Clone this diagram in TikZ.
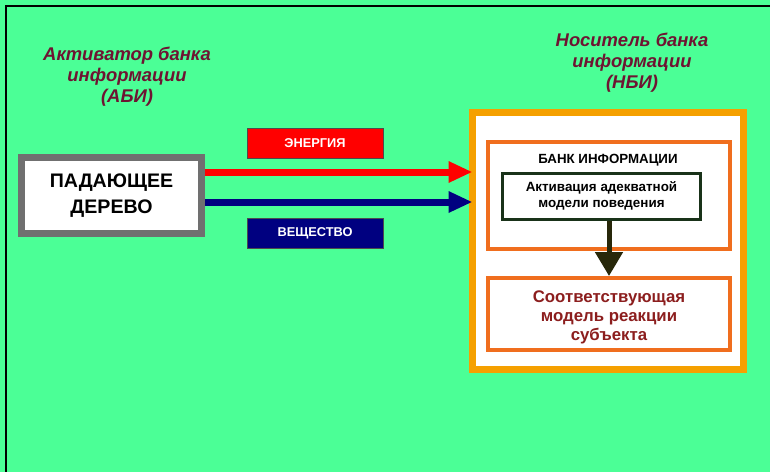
\documentclass[tikz,border=0pt]{standalone}
\usepackage{fontspec}
\setmainfont{Liberation Sans}
\usetikzlibrary{arrows.meta}
\definecolor{bggreen}{RGB}{75,255,150}
\definecolor{boxgray}{RGB}{112,112,112}
\definecolor{outerorange}{RGB}{245,160,0}
\definecolor{innerorange}{RGB}{240,110,30}
\definecolor{titlemaroon}{RGB}{110,20,50}
\definecolor{reactred}{RGB}{140,30,30}
\definecolor{navyblue}{RGB}{0,0,128}
\definecolor{actgreen}{RGB}{25,50,25}
\definecolor{darkarrow}{RGB}{40,40,10}
\tikzset{
  titletext/.style={align=center,text=titlemaroon,font=\fontsize{18.4}{21}\selectfont\bfseries\itshape},
  treebox/.style={draw=boxgray,line width=7pt,fill=white,minimum width=180pt,minimum height=76pt,align=center,font=\fontsize{19.6}{26}\selectfont\bfseries},
  labelbox/.style={draw=black!70,line width=1pt,minimum width=136pt,minimum height=30pt,text=white,font=\fontsize{12.8}{14}\selectfont\bfseries},
  nbibox/.style={draw=outerorange,line width=7pt,fill=white,minimum width=271pt,minimum height=257pt,outer sep=0pt},
  bankbox/.style={draw=innerorange,line width=4pt,fill=white,minimum width=242pt},
  actbox/.style={draw=actgreen,line width=3pt,fill=white,minimum width=198pt,minimum height=46pt,align=center,font=\fontsize{13.4}{16}\selectfont\bfseries},
  flowarrow/.style={line width=7pt,-{Triangle[length=24pt,width=20pt]}},
}
\begin{document}
\begin{tikzpicture}[x=1pt,y=-1pt]
\useasboundingbox (0,0) rectangle (770,472);
\fill[bggreen] (0,0) rectangle (770,472);
\coordinate (tl) at (6,6);
\coordinate (tr) at (770,6);
\coordinate (bl) at (6,472);
\draw[line width=2pt,black] (tr) -- (tl) -- (bl);

\node[titletext] (abi) at (127,77) {Активатор банка\\информации\\(АБИ)};
\node[titletext] (nbititle) at (632,63) {Носитель банка\\информации\\(НБИ)};

\node[treebox] (tree) at (111.5,195.5) {ПАДАЮЩЕЕ\\ДЕРЕВО};

\node[labelbox,fill=red] (energy) at (315,143) {ЭНЕРГИЯ};
\node[labelbox,fill=navyblue] (matter) at (315,233) {ВЕЩЕСТВО};

\node[nbibox] (nbi) at (608,241) {};
\node[bankbox,minimum height=107pt] (bank) at (609,195.5) {};
\node[font=\fontsize{13.3}{15}\selectfont\bfseries] (banktitle) at (608,160) {БАНК ИНФОРМАЦИИ};
\node[actbox] (act) at (601.5,196) {Активация адекватной\\модели поведения};
\node[bankbox,minimum height=72pt] (react) at (609,314) {};
\node[align=center,text=reactred,font=\fontsize{16.8}{19}\selectfont\bfseries] (reacttext) at (609,317) {Соответствующая\\модель реакции\\субъекта};

\coordinate (ry) at (0,172);
\coordinate (by) at (0,202);
\draw[flowarrow,red] (tree.east |- ry) -- (nbi.west |- ry);
\draw[flowarrow,navyblue] (tree.east |- by) -- (nbi.west |- by);
\draw[line width=5pt,darkarrow,-{Triangle[length=24pt,width=27pt]}] (act.south -| react.north) -- (react.north);
\end{tikzpicture}
\end{document}
